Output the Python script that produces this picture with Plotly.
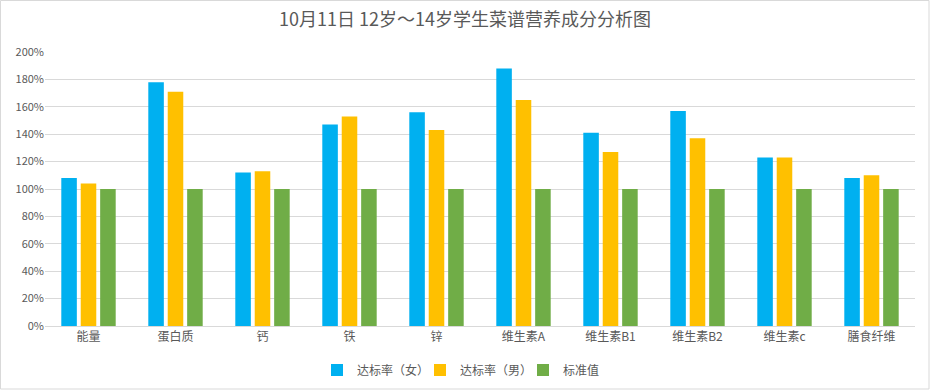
import plotly.graph_objects as go

categories = ["能量", "蛋白质", "钙", "铁", "锌", "维生素A", "维生素B1", "维生素B2", "维生素c", "膳食纤维"]
female = [108, 178, 112, 147, 156, 188, 141, 157, 123, 108]
male = [104, 171, 113, 153, 143, 165, 127, 137, 123, 110]
standard = [100, 100, 100, 100, 100, 100, 100, 100, 100, 100]
series_names = ["达标率（女）", "达标率（男）", "标准值"]
colors = ["#00B0F0", "#FFC000", "#70AD47"]
tick_vals = [0, 20, 40, 60, 80, 100, 120, 140, 160, 180, 200]
tick_text = [f"{v}%" for v in tick_vals]

fig = go.Figure()
for name, vals, c in zip(series_names, [female, male, standard], colors):
    fig.add_trace(go.Bar(x=categories, y=vals, name=name, marker=dict(color=c, line=dict(width=0)),
                         hovertemplate="%{x}: %{y}%<extra>" + name + "</extra>"))

W, H = 930, 390
ml, mr, mt, mb = 45, 15, 52, 64
pw, ph = W - ml - mr, H - mt - mb

fig.update_layout(
    width=W, height=H,
    margin=dict(l=ml, r=mr, t=mt, b=mb, autoexpand=False),
    paper_bgcolor="white", plot_bgcolor="white",
    font=dict(family="Noto Sans CJK SC, Noto Sans, sans-serif", color="#595959", size=12),
    title=dict(text="10月11日 12岁～14岁学生菜谱营养成分分析图", x=0.5, xanchor="center",
               y=1 - 20 / H, yanchor="middle", font=dict(size=18, color="#595959")),
    barmode="group", bargap=0.33, bargroupgap=0.2,
    showlegend=True,
    legend=dict(orientation="h", x=(317 - ml) / pw, xanchor="left", y=-(370 - 326) / ph,
                yanchor="middle", font=dict(size=12, color="#595959"), itemwidth=30,
                entrywidth=58, entrywidthmode="pixels",
                traceorder="normal", tracegroupgap=0),
    xaxis=dict(showgrid=False, showline=True, linecolor="#d9d9d9", linewidth=1, ticks="",
               automargin=False, tickfont=dict(size=12, color="#595959")),
    yaxis=dict(range=[0, 200], tickmode="array", tickvals=tick_vals, ticktext=tick_text,
               showgrid=True, gridcolor="#d9d9d9", automargin=False,
               gridwidth=1, zeroline=False, showline=False, ticks="",
               tickfont=dict(size=11, color="#595959")),
    shapes=[dict(type="rect", xref="paper", yref="paper",
                 x0=-ml / pw + 0.5 / pw, x1=1 + (mr - 1) / pw,
                 y0=-(mb - 1) / ph, y1=1 + (mt - 0.5) / ph,
                 line=dict(color="#d9d9d9", width=1), fillcolor="rgba(0,0,0,0)", layer="below")],
)

fig.write_html("out.html", config={"displayModeBar": False},
               post_script="document.body.style.margin='0';")
